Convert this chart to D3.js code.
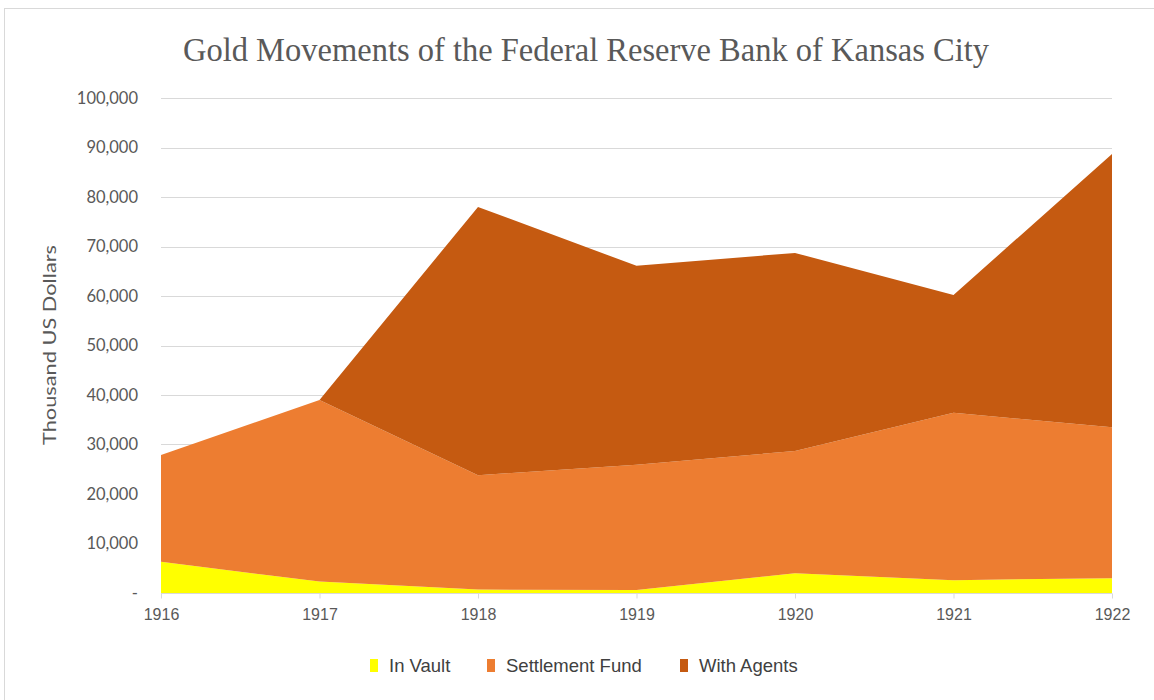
<!DOCTYPE html>
<html>
<head>
<meta charset="utf-8">
<script src="https://cdn.jsdelivr.net/npm/d3@7"></script>
<style>
  html, body { margin: 0; padding: 0; background: #fff; }
  svg { display: block; }
</style>
</head>
<body>
<svg id="chart" width="1154" height="700"></svg>
<script>
const years = ["1916", "1917", "1918", "1919", "1920", "1921", "1922"];
const inVault = [6300, 2300, 700, 600, 4000, 2600, 3000];
const settlementFund = [21600, 36700, 23100, 25300, 24700, 33800, 30500];
const withAgents = [0, 0, 54200, 40200, 40000, 23800, 55200];
const seriesNames = ["In Vault", "Settlement Fund", "With Agents"];
const seriesColors = ["#FFFF00", "#ED7D31", "#C55A11"];
const yTicks = [0, 10000, 20000, 30000, 40000, 50000, 60000, 70000, 80000, 90000, 100000];

const svg = d3.select("#chart");
const m = { left: 161, right: 1112, top: 98, bottom: 593 };

// outer frame (right and bottom edges fall outside the picture)
svg.append("rect").attr("x", 4.5).attr("y", 8.5).attr("width", 1170).attr("height", 720)
  .attr("fill", "#fff").attr("stroke", "#d9d9d9").attr("stroke-width", 1);

const table = years.map((y, i) => ({
  year: y,
  "In Vault": inVault[i],
  "Settlement Fund": settlementFund[i],
  "With Agents": withAgents[i]
}));

const x = d3.scalePoint().domain(years).range([m.left, m.right]);
const y = d3.scaleLinear().domain([0, 100000]).range([m.bottom, m.top]);

// gridlines
svg.append("g").selectAll("line").data(yTicks.filter(d => d > 0)).join("line")
  .attr("x1", m.left).attr("x2", m.right)
  .attr("y1", d => Math.round(y(d)) + 0.5).attr("y2", d => Math.round(y(d)) + 0.5)
  .attr("stroke", "#d9d9d9").attr("stroke-width", 1);

// stacked areas
const stack = d3.stack().keys(seriesNames);
const layers = stack(table);
const area = d3.area()
  .x(d => x(d.data.year))
  .y0(d => y(d[0]))
  .y1(d => y(d[1]));

svg.append("g").selectAll("path").data(layers).join("path")
  .attr("d", area)
  .attr("fill", (d, i) => seriesColors[i]);

// y axis labels
const fmt = d3.format(",");
const yAxis = d3.axisLeft(y).tickValues(yTicks).tickSize(0).tickPadding(23)
  .tickFormat(d => d === 0 ? "-" : fmt(d));
const yg = svg.append("g").attr("transform", `translate(${m.left},0)`).call(yAxis);
yg.select(".domain").remove();
yg.selectAll("text").attr("fill", "#595959")
  .style("font-family", "Lato, 'Open Sans', sans-serif").style("font-size", "16.5px");

// x axis
const xAxis = d3.axisBottom(x).tickSize(5).tickPadding(10);
const xg = svg.append("g").attr("transform", `translate(0,${m.bottom + 0.5})`).call(xAxis);
xg.select(".domain").attr("stroke", "#d9d9d9").attr("d", `M${m.left},0H${m.right}`);
xg.selectAll(".tick line").attr("stroke", "#d9d9d9");
xg.selectAll("text").attr("fill", "#595959")
  .style("font-family", "'Liberation Sans', 'DejaVu Sans', sans-serif")
  .style("font-size", "16px");

// title
svg.append("text").attr("x", 586).attr("y", 61).attr("text-anchor", "middle")
  .attr("fill", "#595959")
  .attr("textLength", 806).attr("lengthAdjust", "spacingAndGlyphs")
  .style("font-family", "'Liberation Serif', 'DejaVu Serif', serif")
  .style("font-size", "33px")
  .text("Gold Movements of the Federal Reserve Bank of Kansas City");

// y axis title
svg.append("text")
  .attr("transform", "translate(56,345) rotate(-90)")
  .attr("text-anchor", "middle").attr("fill", "#595959")
  .attr("textLength", 200).attr("lengthAdjust", "spacingAndGlyphs")
  .style("font-family", "Lato, 'Open Sans', sans-serif").style("font-size", "18px")
  .text("Thousand US Dollars");

// legend
const legendX = [370, 487, 680];
const lg = svg.append("g");
seriesNames.forEach((name, i) => {
  lg.append("rect").attr("x", legendX[i]).attr("y", 659).attr("width", 8).attr("height", 13)
    .attr("fill", seriesColors[i]);
  lg.append("text").attr("x", legendX[i] + 19).attr("y", 672)
    .attr("fill", "#404040")
    .style("font-family", "'Liberation Sans', 'DejaVu Sans', sans-serif")
    .style("font-size", "18.5px")
    .text(name);
});
</script>
</body>
</html>
